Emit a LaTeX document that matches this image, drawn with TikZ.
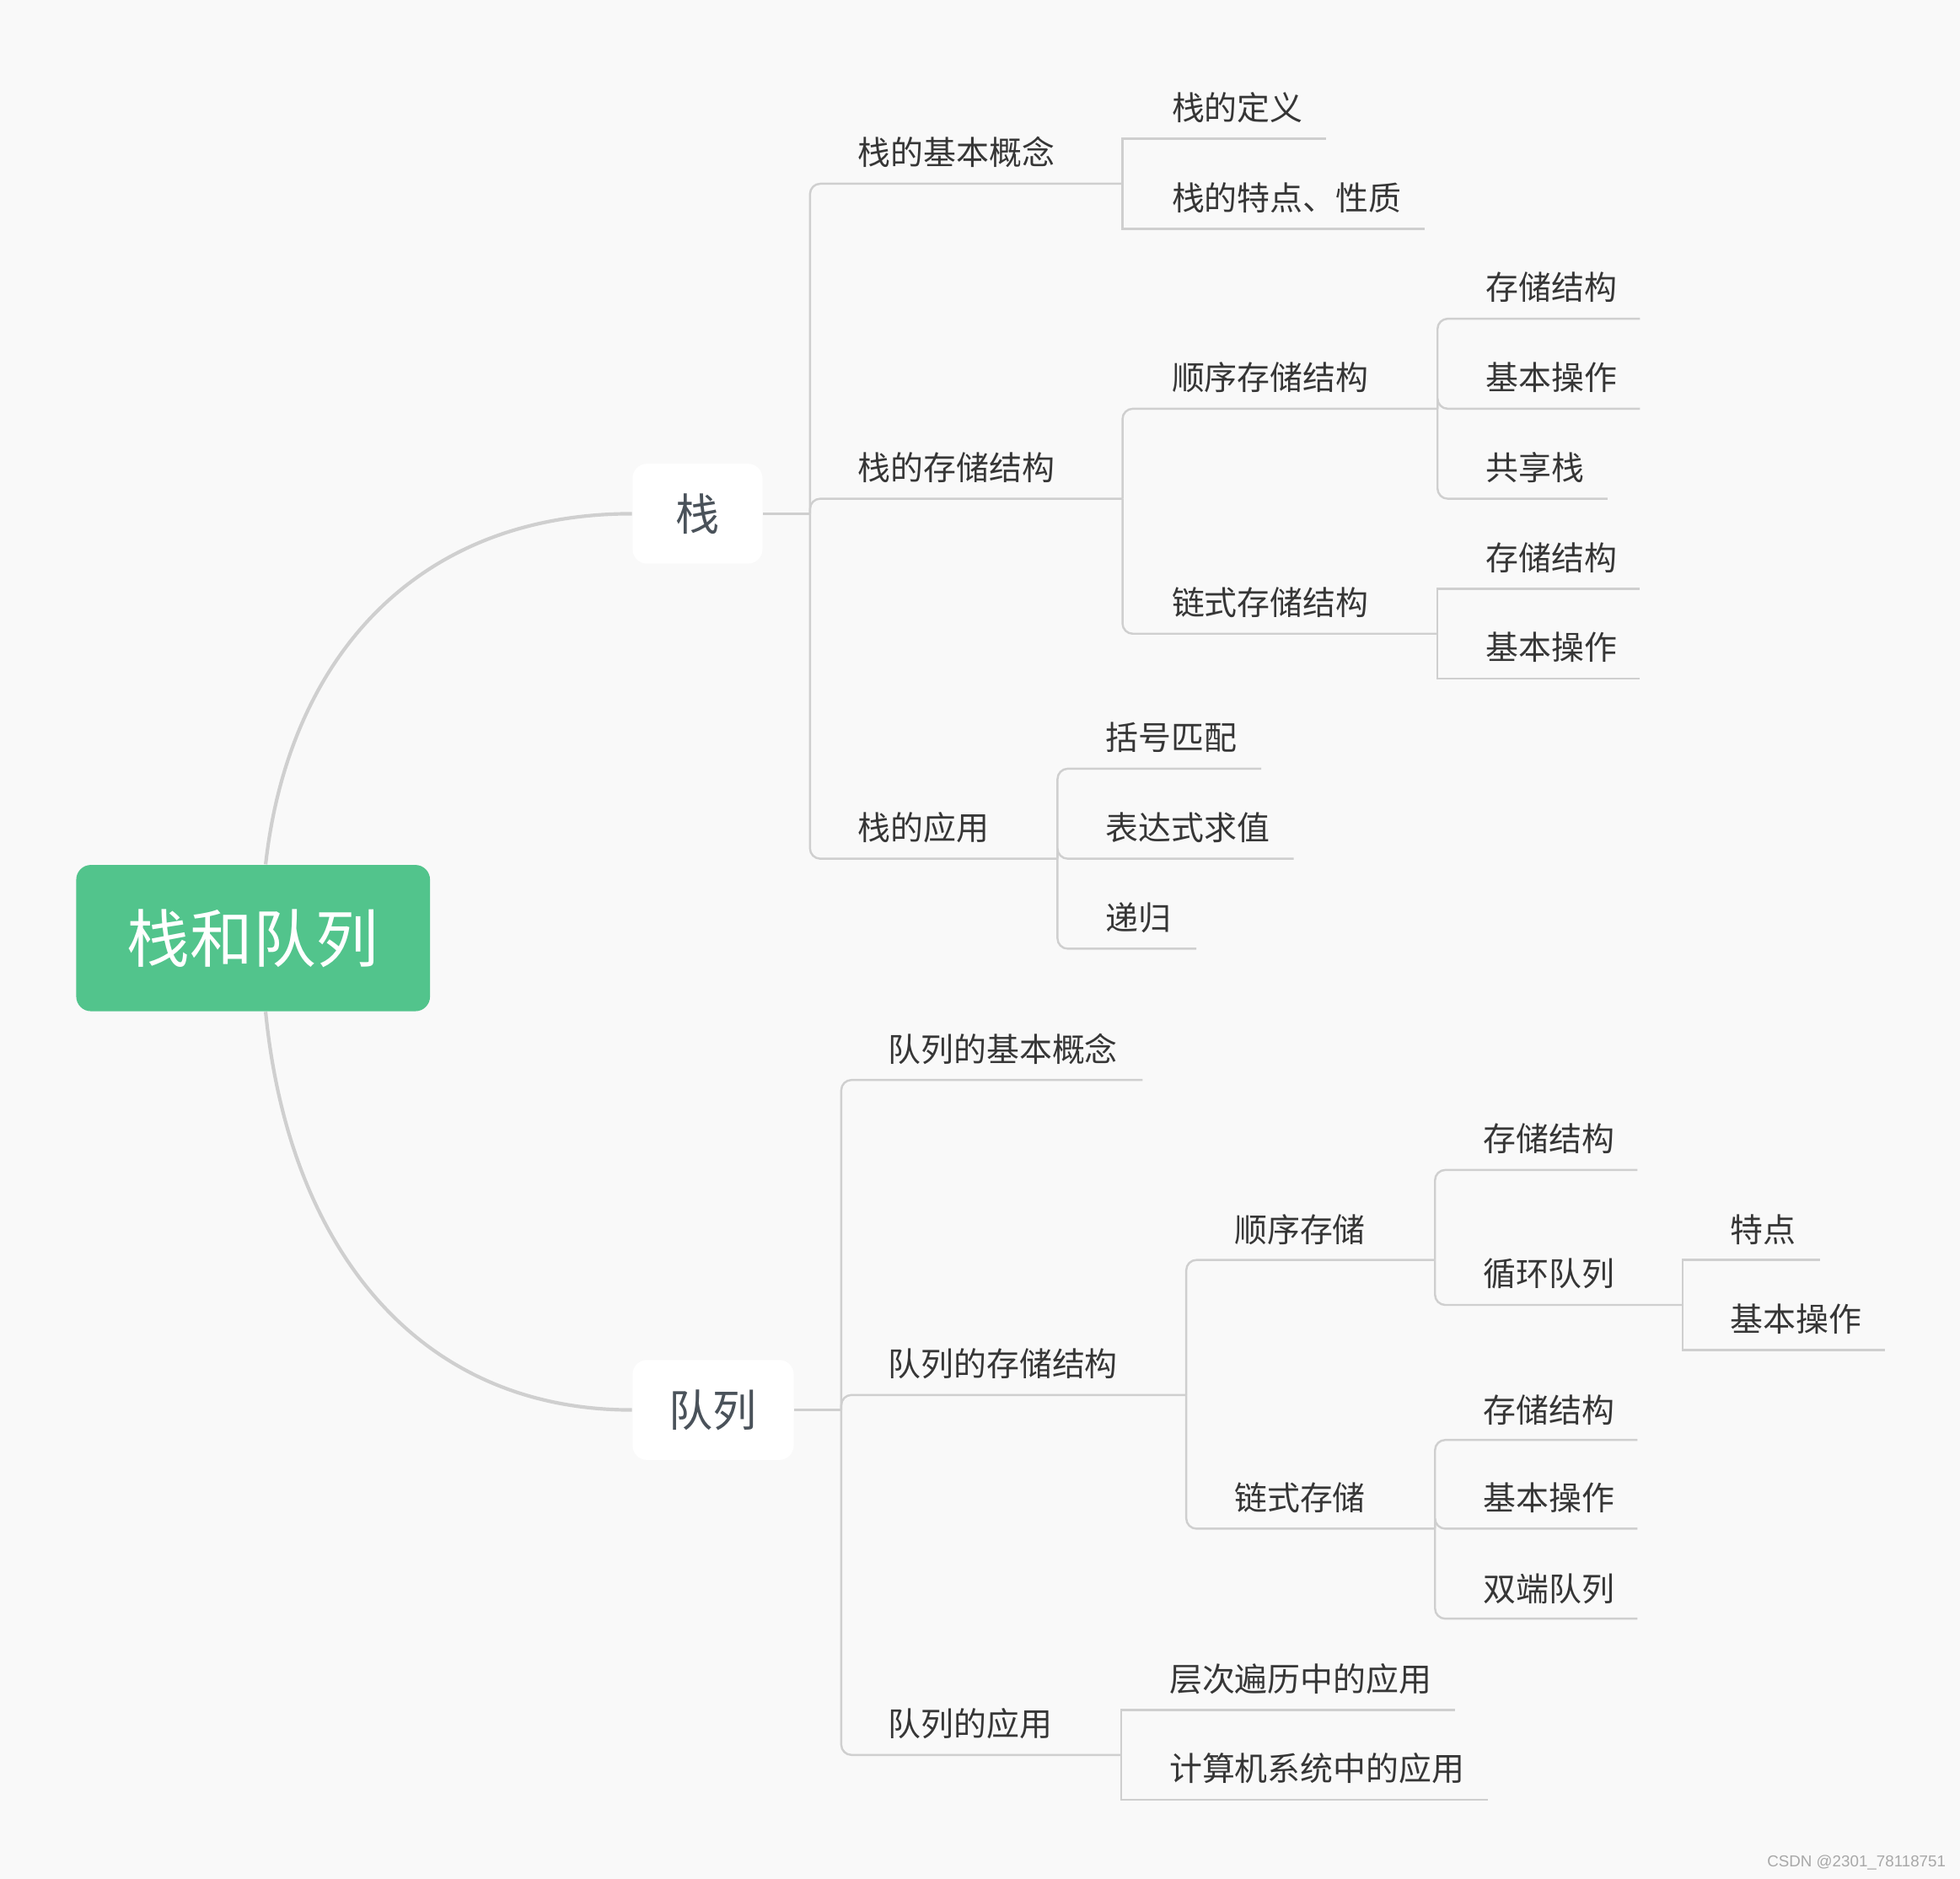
\documentclass[tikz,border=0pt]{standalone}
\usepackage{fontspec}
\setmainfont{Noto Sans CJK SC}
\newfontfamily\markfont{Liberation Sans}
\usetikzlibrary{positioning}
\definecolor{bgGray}{HTML}{F9F9F9}
\definecolor{rootGreen}{HTML}{52C48C}
\definecolor{lineGray}{HTML}{CFCFCF}
\definecolor{topicText}{HTML}{363636}
\definecolor{mainText}{HTML}{4A525A}
\definecolor{markGray}{HTML}{A8A8A8}

\begin{document}
\begin{tikzpicture}[
			x=0.015cm, y=-0.015cm,
			root/.style={fill=rootGreen, rounded corners=5pt, text=white, font=\fontsize{21.5}{26}\selectfont, minimum width=4.245cm, minimum height=1.755cm, inner sep=0pt},
			mainbox/.style={fill=white, rounded corners=5pt, text=mainText, font=\fontsize{15}{18}\selectfont, minimum height=1.2cm, inner sep=0pt},
			topic/.style={anchor=west, inner sep=0pt, text=topicText, font=\fontsize{11.2}{13}\selectfont},
			branch/.style={draw=lineGray, line width=0.7pt, rounded corners=3.5pt},
			curve/.style={draw=lineGray, line width=1.2pt}
			]
			\fill[bgGray] (0,0) rectangle (1568,1503);
			\useasboundingbox (0,0) rectangle (1568,1503);
			
			% central topic and main branches
			\node[root] (root) at (202.5,750.5) {栈和队列};
			\node[mainbox, minimum width=1.56cm] (stack) at (558,411) {栈};
			\node[mainbox, minimum width=1.935cm] (queue) at (570.5,1128) {队列};
			
			\draw[curve] ([xshift=0.15cm]root.north) .. controls +(18,-162) and +(-175,0) .. (stack.west);
			\draw[curve] ([xshift=0.15cm]root.south) .. controls +(18,184) and +(-175,0) .. (queue.west);
			
			% stack topics
			\node[topic] (sBasic) at (686,122) {栈的基本概念};
			\node[topic] (sStore) at (686,374) {栈的存储结构};
			\node[topic] (sApp) at (686,662) {栈的应用};
			\node[topic] (sDef) at (937,86) {栈的定义};
			\node[topic] (sProp) at (937,158) {栈的特点、性质};
			\node[topic] (sSeq) at (937,302) {顺序存储结构};
			\node[topic] (sLink) at (937,482) {链式存储结构};
			\node[topic] (sSeqStore) at (1188,230) {存储结构};
			\node[topic] (sSeqOp) at (1188,302) {基本操作};
			\node[topic] (sShared) at (1188,374) {共享栈};
			\node[topic] (sLinkStore) at (1188,446) {存储结构};
			\node[topic] (sLinkOp) at (1188,518) {基本操作};
			\node[topic] (sBracket) at (884,590) {括号匹配};
			\node[topic] (sExpr) at (884,662) {表达式求值};
			\node[topic] (sRecur) at (884,734) {递归};
			
			\coordinate (sJ) at (648,411);
			\coordinate (sBasic-e) at (898,147);
			\coordinate (sStore-e) at (898,399);
			\coordinate (sApp-e) at (846,687);
			\coordinate (sDef-e) at (1061,111);
			\coordinate (sProp-e) at (1140,183);
			\coordinate (sSeq-e) at (1150,327);
			\coordinate (sLink-e) at (1150,507);
			\coordinate (sSeqStore-e) at (1312,255);
			\coordinate (sSeqOp-e) at (1312,327);
			\coordinate (sShared-e) at (1286,399);
			\coordinate (sLinkStore-e) at (1312,471);
			\coordinate (sLinkOp-e) at (1312,543);
			\coordinate (sBracket-e) at (1009,615);
			\coordinate (sExpr-e) at (1035,687);
			\coordinate (sRecur-e) at (957,759);
			
			\draw[branch] (stack.east) -- (sJ);
			\draw[branch] (sJ) |- (sBasic-e);
			\draw[branch] (sJ) |- (sStore-e);
			\draw[branch] (sJ) |- (sApp-e);
			\draw[branch, sharp corners] (sBasic-e) |- (sDef-e);
			\draw[branch, sharp corners] (sBasic-e) |- (sProp-e);
			\draw[branch] (sStore-e) |- (sSeq-e);
			\draw[branch] (sStore-e) |- (sLink-e);
			\draw[branch] (sSeq-e) |- (sSeqStore-e);
			\draw[branch] (sSeq-e) |- (sSeqOp-e);
			\draw[branch] (sSeq-e) |- (sShared-e);
			\draw[branch, sharp corners] (sLink-e) |- (sLinkStore-e);
			\draw[branch, sharp corners] (sLink-e) |- (sLinkOp-e);
			\draw[branch] (sApp-e) |- (sBracket-e);
			\draw[branch] (sApp-e) |- (sExpr-e);
			\draw[branch] (sApp-e) |- (sRecur-e);
			
			% queue topics
			\node[topic] (qBasic) at (710,839) {队列的基本概念};
			\node[topic] (qStore) at (710,1091) {队列的存储结构};
			\node[topic] (qApp) at (710,1379) {队列的应用};
			\node[topic] (qSeq) at (987,984) {顺序存储};
			\node[topic] (qLink) at (987,1198) {链式存储};
			\node[topic] (qSeqStore) at (1186,911) {存储结构};
			\node[topic] (qCirc) at (1186,1019) {循环队列};
			\node[topic] (qCircProp) at (1384,984) {特点};
			\node[topic] (qCircOp) at (1384,1055) {基本操作};
			\node[topic] (qLinkStore) at (1186,1128) {存储结构};
			\node[topic] (qLinkOp) at (1186,1198) {基本操作};
			\node[topic] (qDeque) at (1186,1271) {双端队列};
			\node[topic] (qLevel) at (935,1343) {层次遍历中的应用};
			\node[topic] (qSys) at (935,1415) {计算机系统中的应用};
			
			\coordinate (qJ) at (673,1128);
			\coordinate (qBasic-e) at (914,864);
			\coordinate (qStore-e) at (949,1116);
			\coordinate (qApp-e) at (897,1404);
			\coordinate (qSeq-e) at (1148,1008);
			\coordinate (qLink-e) at (1148,1223);
			\coordinate (qSeqStore-e) at (1310,936);
			\coordinate (qCirc-e) at (1346,1044);
			\coordinate (qCircProp-e) at (1456,1008);
			\coordinate (qCircOp-e) at (1508,1080);
			\coordinate (qLinkStore-e) at (1310,1152);
			\coordinate (qLinkOp-e) at (1310,1223);
			\coordinate (qDeque-e) at (1310,1295);
			\coordinate (qLevel-e) at (1164,1368);
			\coordinate (qSys-e) at (1190,1440);
			
			\draw[branch] (queue.east) -- (qJ);
			\draw[branch] (qJ) |- (qBasic-e);
			\draw[branch] (qJ) |- (qStore-e);
			\draw[branch] (qJ) |- (qApp-e);
			\draw[branch] (qStore-e) |- (qSeq-e);
			\draw[branch] (qStore-e) |- (qLink-e);
			\draw[branch] (qSeq-e) |- (qSeqStore-e);
			\draw[branch] (qSeq-e) |- (qCirc-e);
			\draw[branch, sharp corners] (qCirc-e) |- (qCircProp-e);
			\draw[branch, sharp corners] (qCirc-e) |- (qCircOp-e);
			\draw[branch] (qLink-e) |- (qLinkStore-e);
			\draw[branch] (qLink-e) |- (qLinkOp-e);
			\draw[branch] (qLink-e) |- (qDeque-e);
			\draw[branch, sharp corners] (qApp-e) |- (qLevel-e);
			\draw[branch, sharp corners] (qApp-e) |- (qSys-e);
			
			\node[anchor=east, inner sep=0pt, text=markGray, font=\markfont\fontsize{5.4}{6}\selectfont] (mark) at (1557,1490) {CSDN @2301\_78118751};
		\end{tikzpicture}
\end{document}
